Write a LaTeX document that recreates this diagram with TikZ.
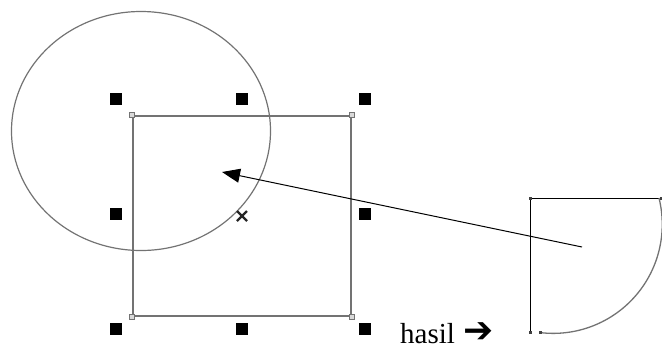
\documentclass[tikz,border=0pt]{standalone}
\usepackage{fontspec}
\setmainfont{Liberation Serif}
\newfontfamily\symfont{DejaVu Sans}
\usetikzlibrary{arrows.meta,calc}

\begin{document}
\begin{tikzpicture}[x=1pt, y=-1pt,
  outline/.style={draw=black!55, line width=1.3pt},
  handle/.style={fill=black, minimum size=12pt, inner sep=0pt},
  corner/.style={draw=black!55, fill=black!15, minimum size=5pt, inner sep=0pt, line width=0.8pt},
  dot/.style={fill=black!75, minimum size=3pt, inner sep=0pt},
  arr/.style={-{Triangle[length=18pt, width=14pt]}, line width=1pt}
]
\useasboundingbox (0,0) rectangle (662,349);

% original circle and the selection box
\draw[black!55, line width=1.2pt] (141,131) ellipse [x radius=129.5, y radius=119.5];
\node[outline, minimum width=218pt, minimum height=200pt, inner sep=0pt] (sel) at (242,216) {};
\foreach \a in {north west, north east, south west, south east}
  \node[corner] at (sel.\a) {};
\foreach \a/\dx/\dy in {north west/-16/-16, north/0/-16, north east/13/-16,
                        west/-16/-2, east/13/-2,
                        south west/-16/12, south/0/12, south east/13/12}
  \node[handle] at ([shift={(\dx,\dy)}]sel.\a) {};
\draw[black!85, line width=2.2pt] ([shift={(-5,-5)}]sel.center) -- ([shift={(5,5)}]sel.center)
  ([shift={(-5,5)}]sel.center) -- ([shift={(5,-5)}]sel.center);

% trimmed result
\coordinate (q1) at (530,198);
\coordinate (q2) at (659,198);
\coordinate (q3) at (530,332);
\coordinate (q4) at (540,332);
\draw[line width=1pt] (q3) -- (q1) -- (q2);
\draw[black!55, line width=1.3pt] (q2) arc[start angle=-14, end angle=97, radius=109];
\foreach \p in {q1, q3, q4}
  \node[dot] at (\p) {};
\node[dot] at ([shift={(2,0)}]q2) {};

\coordinate (from) at (582,247);
\coordinate (tip) at (222,172);
\draw[arr] (from) -- (tip);

\node[font=\fontsize{29}{32}\selectfont, anchor=base west, inner sep=0pt] (hasil) at (400,343)
  {hasil\hspace{9pt}\raisebox{0.5pt}{\symfont\bfseries\fontsize{36}{36}\selectfont ➔}};
\end{tikzpicture}
\end{document}
